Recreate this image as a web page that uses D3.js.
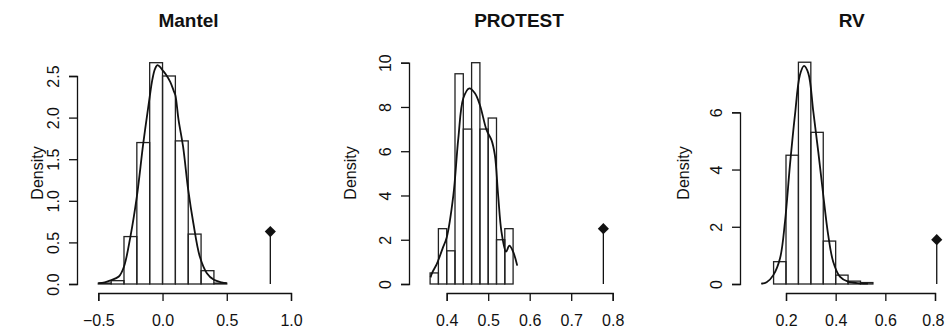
<!DOCTYPE html>
<html>
<head>
<meta charset="utf-8">
<script src="https://cdn.jsdelivr.net/npm/d3@7"></script>
<style>
  body { margin: 0; background: #fff; }
  svg { display: block; }
  text { font-family: "Liberation Sans", Arial, sans-serif; fill: #111; }
</style>
</head>
<body>
<svg id="chart" width="945" height="331"></svg>
<script>
// ---- data ----
const titles = ['Mantel', 'PROTEST', 'RV'];

const mantelBreaks = [-0.5, -0.4, -0.3, -0.2, -0.1, 0.0, 0.1, 0.2, 0.3, 0.4, 0.5];
const mantelDensity = [0.01, 0.04, 0.57, 1.70, 2.66, 2.50, 1.72, 0.60, 0.16, 0.01];
const mantelCurveX = [-0.50, -0.45, -0.41, -0.34, -0.30, -0.25, -0.20, -0.15, -0.10, -0.08, -0.06, -0.04, -0.02, 0.00, 0.03, 0.06, 0.09, 0.10, 0.125, 0.16, 0.20, 0.24, 0.29, 0.345, 0.40, 0.46, 0.50];
const mantelCurveY = [0.01, 0.02, 0.04, 0.09, 0.21, 0.57, 1.05, 1.69, 2.25, 2.45, 2.58, 2.63, 2.61, 2.57, 2.51, 2.43, 2.31, 2.27, 1.97, 1.65, 1.13, 0.73, 0.33, 0.13, 0.05, 0.02, 0.01];
const mantelObs = 0.839, mantelObsY = 0.63;
const mantelXTicks = [-0.5, 0.0, 0.5, 1.0];
const mantelYTicks = [0.0, 0.5, 1.0, 1.5, 2.0, 2.5];

const protestBreaks = [0.36, 0.38, 0.40, 0.42, 0.44, 0.46, 0.48, 0.50, 0.52, 0.54, 0.56];
const protestDensity = [0.5, 2.5, 1.5, 9.5, 7.0, 10.0, 7.0, 7.5, 2.0, 2.5];
const protestCurveX = [0.361, 0.366, 0.376, 0.390, 0.400, 0.416, 0.428, 0.440, 0.4545, 0.468, 0.480, 0.496, 0.508, 0.516, 0.524, 0.532, 0.543, 0.551, 0.560, 0.570];
const protestCurveY = [0.30, 0.55, 0.90, 1.60, 2.10, 4.00, 6.58, 8.39, 8.84, 8.62, 8.09, 6.96, 6.50, 5.83, 4.00, 2.36, 1.46, 1.73, 1.46, 0.83];
const protestObs = 0.7775, protestObsY = 2.5;
const protestXTicks = [0.4, 0.5, 0.6, 0.7, 0.8];
const protestYTicks = [0, 2, 4, 6, 8, 10];

const rvBreaks = [0.10, 0.15, 0.20, 0.25, 0.30, 0.35, 0.40, 0.45, 0.50, 0.55];
const rvDensity = [0.0, 0.78, 4.50, 7.75, 5.30, 1.50, 0.31, 0.10, 0.05];
const rvCurveX = [0.10, 0.122, 0.149, 0.176, 0.196, 0.216, 0.236, 0.256, 0.2725, 0.29, 0.31, 0.33, 0.35, 0.37, 0.39, 0.417, 0.45, 0.498, 0.53];
const rvCurveY = [0.01, 0.06, 0.31, 0.90, 2.18, 4.16, 5.90, 7.30, 7.62, 7.36, 6.02, 4.62, 3.11, 1.71, 0.78, 0.26, 0.08, 0.025, 0.01];
const rvObs = 0.807, rvObsY = 1.55;
const rvXTicks = [0.2, 0.4, 0.6, 0.8];
const rvYTicks = [0, 2, 4, 6];

// ---- layout per panel ----
const panels = [
  { title: titles[0], breaks: mantelBreaks, dens: mantelDensity, cx: mantelCurveX, cy: mantelCurveY,
    obs: mantelObs, obsY: mantelObsY, xTicks: mantelXTicks, yTicks: mantelYTicks, fmt: d3.format('.1f'),
    xr: [98.3, 291], yr: [284, 76], axisX: 77, titleX: 188.5, ylabX: 43 },
  { title: titles[1], breaks: protestBreaks, dens: protestDensity, cx: protestCurveX, cy: protestCurveY,
    obs: protestObs, obsY: protestObsY, xTicks: protestXTicks, yTicks: protestYTicks, fmt: d3.format('.0f'),
    xr: [446.7, 612.7], yr: [284, 62.7], axisX: 409, titleX: 519, ylabX: 356 },
  { title: titles[2], breaks: rvBreaks, dens: rvDensity, cx: rvCurveX, cy: rvCurveY,
    obs: rvObs, obsY: rvObsY, xTicks: rvXTicks, yTicks: rvYTicks, fmt: d3.format('.0f'),
    xr: [786, 935], yr: [284, 112.3], axisX: 740, titleX: 851.7, ylabX: 689 }
];
const axisY = 293;
const W = 945;
const ink = '#111';

const svg = d3.select('#chart');

panels.forEach(p => {
  const x = d3.scaleLinear()
    .domain([p.xTicks[0], p.xTicks[p.xTicks.length - 1]])
    .range(p.xr);
  const y = d3.scaleLinear()
    .domain([p.yTicks[0], p.yTicks[p.yTicks.length - 1]])
    .range(p.yr);
  const g = svg.append('g');

  // title
  g.append('text')
    .attr('x', p.titleX).attr('y', 27)
    .attr('text-anchor', 'middle')
    .style('font-size', '19px').style('font-weight', 'bold')
    .text(p.title);

  // y label
  g.append('text')
    .attr('transform', `translate(${p.ylabX},173) rotate(-90)`)
    .attr('text-anchor', 'middle')
    .style('font-size', '16px')
    .text('Density');

  // histogram bars
  const bins = p.dens.map((d, i) => ({ x0: p.breaks[i], x1: p.breaks[i + 1], d }));
  g.selectAll('rect.bar')
    .data(bins)
    .enter().append('rect')
    .attr('class', 'bar')
    .attr('x', d => x(d.x0))
    .attr('y', d => y(d.d))
    .attr('width', d => x(d.x1) - x(d.x0))
    .attr('height', d => y(0) - y(d.d))
    .attr('fill', 'none')
    .attr('stroke', '#222')
    .attr('stroke-width', 1.3);

  // density curve
  const pts = p.cx.map((v, i) => [v, p.cy[i]]);
  const line = d3.line()
    .x(d => x(d[0]))
    .y(d => y(d[1]))
    .curve(d3.curveCatmullRom);
  g.append('path')
    .datum(pts)
    .attr('fill', 'none')
    .attr('stroke', ink)
    .attr('stroke-width', 1.8)
    .attr('d', line);

  // observed statistic
  g.append('line')
    .attr('x1', x(p.obs)).attr('x2', x(p.obs))
    .attr('y1', y(0)).attr('y2', y(p.obsY))
    .attr('stroke', ink).attr('stroke-width', 1.3);
  g.append('path')
    .attr('d', d3.symbol(d3.symbolSquare).size(62)())
    .attr('transform', `translate(${x(p.obs)},${y(p.obsY)}) rotate(45)`)
    .attr('fill', ink);

  // axes
  const ax = g.append('g')
    .attr('transform', `translate(0,${axisY})`)
    .call(d3.axisBottom(x).tickValues(p.xTicks).tickSizeOuter(0).tickSize(8).tickFormat(d3.format('.1f')));
  ax.selectAll('text').attr('y', 33).attr('dy', null).style('font-size', '16px');
  // keep the last label inside the window (the reference has it flush with the edge)
  ax.selectAll('.tick').each(function (d) {
    const t = d3.select(this).select('text');
    const half = t.node().getComputedTextLength() / 2;
    const over = x(d) + half - (W - 1);
    if (over > 0) t.attr('x', -over);
  });
  const ay = g.append('g')
    .attr('transform', `translate(${p.axisX},0)`)
    .call(d3.axisLeft(y).tickValues(p.yTicks).tickSizeOuter(0).tickSize(8).tickFormat(p.fmt));
  ay.selectAll('text')
    .attr('x', 0).attr('y', -18.5).attr('dy', null)
    .attr('text-anchor', 'middle')
    .attr('transform', 'rotate(-90)')
    .style('font-size', '16px');
  g.selectAll('.domain, .tick line').attr('stroke', ink).attr('stroke-width', 1.3);
  g.selectAll('.tick text').attr('fill', ink)
    .style('font-family', '"Liberation Sans", Arial, sans-serif');
});
</script>
</body>
</html>
